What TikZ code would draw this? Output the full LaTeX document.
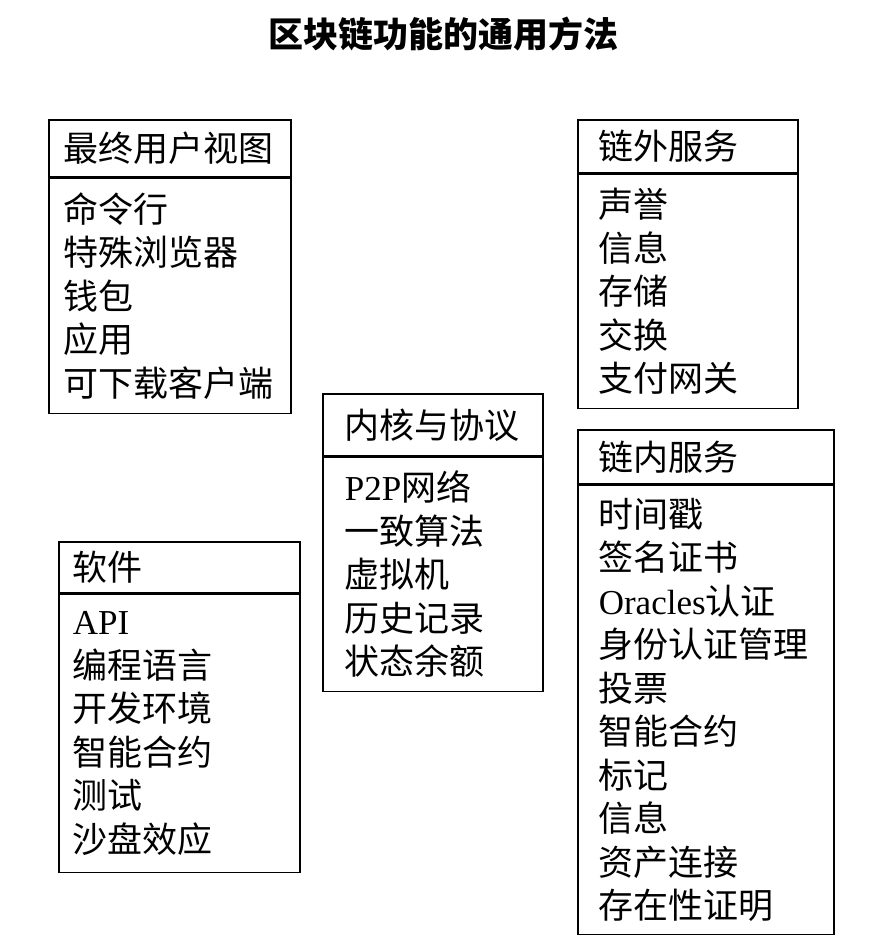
\documentclass[tikz,border=0pt]{standalone}
\usepackage{fontspec}
\setmainfont{Liberation Serif}
\newfontfamily\cjk{Noto Sans CJK SC}
\newcommand{\lat}[1]{{\rmfamily #1}}
\usetikzlibrary{positioning}

\begin{document}
\begin{tikzpicture}[x=1pt,y=-1pt,
  box/.style={draw, line width=1.6pt, align=left, inner ysep=0pt,
    font={\cjk\fontsize{35}{43.5}\selectfont}},
  headbox/.style={box, anchor=north west},
  listbox/.style={box, below=0pt of #1}]
\useasboundingbox (0,0) rectangle (892,946);

% title
  \node (title) at (443,34) {\cjk\fontsize{35}{40}\selectfont\bfseries 区块链功能的通用方法};

% define the boxes
  \node[headbox, text width=212pt, inner xsep=15pt, minimum height=57pt] (userh) at (48,119)
{最终用户视图};
  \node[listbox=userh, text width=212pt, inner xsep=15pt, minimum height=235pt] (userb)
{命令行\\特殊浏览器\\钱包\\应用\\可下载客户端};

  \node[headbox, text width=213pt, inner xsep=14pt, minimum height=51pt] (softh) at (58,541)
{软件};
  \node[listbox=softh, text width=213pt, inner xsep=14pt, minimum height=278pt] (softb)
{\lat{API}\\编程语言\\开发环境\\智能合约\\测试\\沙盘效应};

  \node[headbox, text width=176pt, inner xsep=22pt, minimum height=62pt] (coreh) at (322,393)
{内核与协议};
  \node[listbox=coreh, text width=176pt, inner xsep=22pt, minimum height=234pt] (coreb)
{\lat{P2P}网络\\一致算法\\虚拟机\\历史记录\\状态余额};

  \node[headbox, text width=178pt, inner xsep=21pt, minimum height=53pt] (offh) at (577,119)
{链外服务};
  \node[listbox=offh, text width=178pt, inner xsep=21pt, minimum height=234pt] (offb)
{声誉\\信息\\存储\\交换\\支付网关};

  \node[headbox, text width=214pt, inner xsep=21pt, minimum height=54pt] (onh) at (577,429)
{链内服务};
  \node[listbox=onh, text width=214pt, inner xsep=21pt, minimum height=449pt] (onb)
{时间戳\\签名证书\\\lat{Oracles}认证\\身份认证管理\\投票\\智能合约\\标记\\信息\\资产连接\\存在性证明};

\end{tikzpicture}
\end{document}
